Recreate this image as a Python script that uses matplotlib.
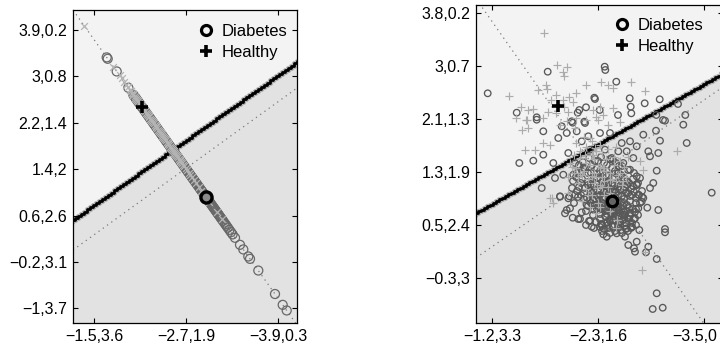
import numpy as np
import matplotlib
matplotlib.use("Agg")
import matplotlib.pyplot as plt
from matplotlib.lines import Line2D
from matplotlib.transforms import ScaledTranslation

plt.rcParams['font.family'] = ['Liberation Sans', 'DejaVu Sans']

# ---------------------------------------------------------------------------
# Left panel: samples projected onto a single discriminant direction.
# Each sample is given by its score along that direction.
# ---------------------------------------------------------------------------
left_xticks = [21, 113, 205]
left_xticklabels = ['\u22121.5,3.6', '\u22122.7,1.9', '\u22123.9,0.3']
left_yticks = [14.7, 61.1, 107.5, 153.9, 200.3, 246.7, 293.1]
left_yticklabels = ['\u22121,3.7', '\u22120.2,3.1', '0.6,2.6', '1.4,2',
                    '2.2,1.4', '3,0.8', '3.9,0.2']

# projection axis (intercept, slope)
left_projection = (313.0, -1.406)
# decision boundaries (intercept, slope)
left_boundary = (103.0, 0.705)
left_alt_boundary = (73.0, 0.723)

left_diabetes_scores = [
    33.7, 34.7, 43.7, 55.3, 60.3, 61.2, 62.5, 63.1, 64.0, 64.8, 65.9, 66.7,
    67.5, 68.6, 69.3, 70.4, 71.2, 72.0, 73.1, 73.9, 74.8, 75.6, 76.7, 77.5,
    78.3, 79.4, 80.2, 81.1, 81.9, 82.8, 83.6, 84.5, 85.5, 86.2, 87.1, 88.0,
    88.8, 89.7, 90.6, 91.4, 92.3, 93.2, 94.0, 94.9, 95.8, 96.6, 97.5, 98.3,
    99.2, 100.1, 100.9, 101.8, 102.6, 103.5, 104.4, 105.2, 106.1, 106.9,
    107.8, 108.7, 109.5, 110.4, 111.2, 112.1, 113.0, 113.8, 114.7, 115.5,
    116.4, 117.3, 118.1, 119.0, 119.8, 120.7, 121.6, 122.4, 123.3, 124.1,
    125.0, 125.9, 126.7, 127.6, 128.4, 129.3, 130.2, 131.0, 131.9, 132.7,
    133.6, 134.5, 135.3, 136.2, 137.0, 137.9, 138.8, 139.6, 140.5, 141.3,
    142.2, 143.1, 143.9, 144.8, 145.6, 146.5, 147.4, 148.2, 149.1, 150.0,
    151.2, 152.3, 153.5, 154.8, 156.4, 158.0, 159.6, 162.0, 167.0, 170.3,
    175.3, 177.0, 185.3, 202.0, 209.7, 213.7,
]
left_healthy_scores = [
    11.3, 40.3, 46.5, 48.7, 51.0, 53.2, 55.1, 56.8, 57.9, 58.7, 59.6, 60.4,
    61.5, 62.3, 63.2, 64.1, 65.0, 65.8, 66.9, 67.7, 68.5, 69.6, 70.4, 71.3,
    72.1, 73.0, 73.9, 74.7, 75.6, 76.4, 77.3, 78.2, 79.0, 79.9, 80.7, 81.6,
    82.5, 83.3, 84.2, 85.0, 85.9, 86.8, 87.6, 88.5, 89.3, 90.2, 91.1, 91.9,
    92.8, 93.6, 94.5, 95.4, 96.2, 97.1, 97.9, 98.8, 99.7, 100.5, 101.4,
    102.2, 103.1, 104.0, 104.8, 105.7, 106.5, 107.4, 108.3, 109.1, 110.0,
    111.2, 112.5, 113.9, 115.6, 117.1, 118.9, 120.8, 123.0, 125.6, 128.4,
    131.7, 136.3, 143.7, 148.7,
]
left_diabetes_center = 133.0
left_healthy_center = 69.0

# ---------------------------------------------------------------------------
# Right panel: samples in the two-dimensional projection.
# ---------------------------------------------------------------------------
right_xticks = [16.3, 122.3, 228.3]
right_xticklabels = ['\u22121.2,3.3', '\u22122.3,1.6', '\u22123.5,0']
right_yticks = [44.7, 97.7, 150.7, 203.7, 256.7, 309.7]
right_yticklabels = ['\u22120.3,3', '0.5,2.4', '1.3,1.9', '2.1,1.3',
                     '3,0.7', '3.8,0.2']

right_boundary = (110.0, 0.565)
right_alt_boundary = (65.2, 0.692)
right_projection = (324.4, -1.425)

right_diabetes_x = [
    11.7, 71.7, 40.7, 60.7, 118.3, 119.0, 110.0, 101.7, 96.7, 108.3, 103.3,
    128.7, 129.3, 140.3, 153.7, 154.7, 155.3, 168.7, 183.7, 202.0, 209.3,
    180.3, 187.0, 142.0, 123.7, 235.7,
    43.3, 57.3, 67.3, 67.3, 60.7, 77.3, 82.3, 92.3, 87.3, 79.0, 65.7, 84.0,
    93.3, 97.3, 107.3, 109.0, 95.7, 100.7, 112.3, 114.0, 105.7, 99.0, 85.7,
    90.7,
    124.0, 134.0, 167.3, 180.0, 184.0, 189.0, 210.7, 207.3, 145.7, 154.0,
    160.7, 142.3, 150.7, 172.3, 174.0, 182.3, 157.3, 154.0, 160.7, 180.7,
    177.3, 174.0, 160.7, 162.3, 167.3, 147.3, 142.3, 135.7, 129.0,
    90.7, 94.0, 89.0, 96.7, 102.3, 105.7, 84.0, 92.3, 114.0, 115.7, 125.7,
    127.3, 130.7, 140.7, 110.7, 120.7,
    182.3, 171.3, 189.0, 189.0, 180.7, 172.3, 170.0, 180.7, 176.7, 186.7,
    162.3, 159.0, 163.3, 149.0, 152.3, 158.0, 159.0, 160.7, 150.7, 155.7,
    165.7,
    112, 118, 124, 130, 136, 142, 148, 153, 120, 126, 132, 138, 144, 150,
    156, 114, 121, 127, 133, 139, 145, 151, 157, 108, 115, 122, 129, 135,
    141, 147, 153, 117, 124, 131, 137, 143, 149, 110, 105, 101, 98, 104,
    110, 118, 126, 133, 139, 146, 128, 134, 140, 146, 152, 158, 122, 116,
    106, 100, 131, 137, 143, 149, 155, 161, 163, 160, 162, 156, 152, 113,
    120, 126, 132, 138, 144, 150, 112, 118, 124, 130, 136, 142, 148, 154,
    160, 166, 164, 108, 102, 96, 124, 130, 136, 142, 148, 154, 140, 128,
    134, 140,
    103, 109, 115, 121, 127, 133, 139, 145, 151, 157, 106, 112, 118, 124,
    130, 136, 142, 148, 154, 160, 105, 111, 117, 123, 129, 135, 141, 147,
    153, 159, 112, 118, 124, 130, 136, 142, 148, 154, 158, 120, 126, 132,
    138, 144, 150, 156, 116, 122, 128, 134, 140, 146, 152, 158, 109, 115,
    121, 127, 133, 139, 145, 151, 157, 119, 125, 131, 137, 143, 113, 107,
    101, 97, 103, 99, 160, 164, 166, 162, 155, 145, 134, 128, 124, 150,
    143, 137, 131, 125, 119, 113,
    127, 132, 138, 143, 148, 135, 141, 146, 151, 129, 134, 139, 144, 149,
    125, 131, 137, 142, 147,
]
right_diabetes_y = [
    229.7, 251.3, 210.3, 205.7, 225.3, 224.0, 215.7, 210.3, 200.3, 201.3,
    213.0,
    256.3, 253.0, 241.3, 224.7, 216.3, 209.7, 219.7, 223.7, 219.0, 208.0,
    208.0, 203.0, 208.0, 213.0, 130.3,
    160.0, 162.3, 168.3, 191.7, 203.3, 160.0, 185.0, 170.0, 148.3, 145.0,
    135.0, 126.7, 126.7, 148.3, 155.0, 200.0, 201.7, 191.7, 186.7, 173.3,
    181.7, 160.0, 196.7, 190.0,
    190.0, 190.0, 188.3, 192.3, 182.3, 202.3, 180.0, 198.3, 180.0, 181.7,
    176.7, 171.7, 171.7, 171.7, 166.7, 170.0, 165.0, 153.3, 146.7, 152.3,
    140.0, 135.0, 138.3, 128.3, 125.0, 160.0, 150.0, 165.0, 173.3,
    113.0, 114.7, 109.7, 105.3, 104.0, 110.7, 126.3, 124.7, 102.0, 96.3,
    98.7, 88.7, 86.3, 89.7, 118.0, 114.7,
    113.0, 115.3, 94.0, 90.7, 64.0, 76.3, 70.7, 29.7, 14.0, 15.3, 114.7,
    104.7, 93.0, 86.3, 78.0, 74.7, 71.3, 81.3, 94.7, 96.3, 121.3,
    150, 146, 152, 148, 155, 150, 145, 140, 140, 136, 141, 137, 133, 130,
    128, 132, 128, 124, 130, 126, 121, 118, 114, 124, 120, 116, 112, 118,
    113, 108, 104, 108, 104, 100, 106, 101, 97, 112, 140, 132, 120, 104,
    98, 95, 92, 95, 92, 90, 160, 164, 160, 157, 153, 150, 162, 158, 152,
    146, 132, 144, 140, 136, 134, 138, 128, 120, 108, 100, 92, 102, 124,
    120, 122, 114, 110, 112, 138, 132, 128, 106, 110, 96, 104, 110, 98,
    132, 145, 130, 126, 135, 144, 140, 132, 128, 124, 122, 118, 116, 102,
    108,
    158, 154, 150, 155, 151, 147, 152, 148, 142, 137, 144, 141, 137, 133,
    137, 140, 136, 133, 127, 125, 128, 125, 123, 119, 126, 123, 121, 117,
    115, 111, 117, 113, 109, 114, 113, 116, 112, 107, 104, 101, 97, 98,
    103, 98, 94, 96, 130, 126, 131, 127, 131, 127, 130, 131, 135, 139,
    145, 141, 135, 133, 143, 138, 144, 162, 166, 158, 163, 157, 165, 161,
    150, 142, 136, 128, 114, 120, 126, 140, 95, 93, 90, 94, 96, 100,
    106, 97, 109, 114, 118, 122,
    119, 116, 118, 113, 120, 111, 109, 114, 105, 107, 103, 106, 101, 108,
    99, 101, 96, 99, 103,
]
right_healthy_x = [
    68.3, 80.7, 90.7, 87.3, 88.3, 33.3, 61.7, 70.0, 70.7, 110.0, 100.0,
    93.3, 80.0, 75.0, 86.7, 96.7, 88.3, 91.7, 45.0, 51.7, 56.7, 71.7, 80.0,
    66.7, 50.0, 40.0, 116.7, 120.0, 100.0, 110.0,
    125.3, 132.0, 137.0, 155.3, 168.7, 123.7, 137.0, 127.0, 143.7,
    49.0, 59.0, 45.7, 52.3, 50.7, 67.3, 74.0, 84.0, 90.7, 99.0, 109.0,
    117.3, 114.0, 104.0, 115.7, 74.0, 92.3,
    200.7, 164.0, 167.3, 132.3, 122.3, 119.0, 127.3, 134.0, 120.7, 147.3,
    75.7, 77.3, 124.0, 141.3, 140.7, 169.0, 165.7,
    104, 110, 116, 122, 128, 100, 106, 112, 118, 124, 94, 98, 130, 120,
    134, 126, 138, 140, 110, 116, 132, 144, 102, 92, 122, 128, 136, 146,
    150, 140, 134, 120, 114,
    98, 104, 110, 118, 126, 132, 138, 144, 108, 114, 120, 128, 136, 142,
    130, 124, 96, 102, 118, 112, 106, 126, 134, 148, 152, 140, 124, 116,
    108, 100,
]
right_healthy_y = [
    289.7, 258.0, 256.3, 251.3, 247.0, 227.0, 233.0, 238.0, 233.7, 238.0,
    229.7, 226.3, 228.0, 223.0, 223.0, 221.3, 216.3, 211.3, 216.3, 213.0,
    213.7, 211.3, 209.7, 204.7, 203.0, 204.7, 213.0, 206.3, 204.7, 203.0,
    241.3, 238.0, 234.7, 241.3, 232.3, 216.3, 214.7, 208.0, 201.3,
    173.3, 173.3, 193.3, 195.0, 203.3, 180.0, 178.3, 198.3, 201.7, 195.0,
    168.3, 168.3, 185.0, 150.0, 146.7, 125.0, 130.0,
    171.7, 161.7, 153.3, 198.3, 203.3, 175.0, 155.0, 143.3, 135.0, 141.7,
    124.7, 119.7, 116.3, 103.0, 103.0, 71.3, 53.0,
    165, 160, 168, 158, 155, 155, 148, 144, 150, 138, 160, 150, 164, 172,
    150, 146, 158, 142, 134, 128, 136, 150, 140, 146, 120, 128, 126, 138,
    146, 95, 112, 110, 116,
    168, 172, 176, 164, 170, 174, 166, 162, 152, 158, 146, 142, 144, 148,
    152, 156, 156, 146, 140, 128, 122, 136, 130, 156, 166, 176, 178, 182,
    186, 180,
]
right_diabetes_center = (136.0, 122.3)
right_healthy_center = (81.7, 217.0)

# ---------------------------------------------------------------------------
LIGHT_BG = '#f3f3f3'
DARK_BG = '#e2e2e2'
CIRCLE_C = '#585858'
CROSS_C = '#ababab'
DOT_C = '#7a7a7a'
TICK_FS = 11.5
LEGEND_FS = 12

fig = plt.figure(figsize=(7.2, 3.49), dpi=100)
ax_l = fig.add_axes([73 / 720, 26 / 349, 224 / 720, 313 / 349])
ax_r = fig.add_axes([476 / 720, 26 / 349, 247 / 720, 318 / 349])


def line_y(params, x):
    a, b = params
    return a + b * np.asarray(x, dtype=float)


def draw_regions(ax, xlim, ylim, boundary, alt_boundary, projection):
    ax.set_xlim(*xlim)
    ax.set_ylim(*ylim)
    ax.set_facecolor(LIGHT_BG)
    xs = np.linspace(xlim[0], xlim[1], 300)
    ax.fill_between(xs, ylim[0], line_y(boundary, xs), color=DARK_BG,
                    lw=0, zorder=0)
    # pixel-grid style decision boundary
    xs_step = np.arange(xlim[0] - 3, xlim[1] + 6, 3.0)
    ys_step = line_y(boundary, xs_step)
    ax.plot(xs_step, ys_step, drawstyle='steps-mid', color='#909090',
            lw=3.8, alpha=0.6, zorder=1.5)
    ax.plot(xs_step, ys_step, drawstyle='steps-mid', color='black',
            lw=2.0, zorder=1.6)
    for params in (alt_boundary, projection):
        ax.plot(xs, line_y(params, xs), ls=(0, (1, 3.2)), color=DOT_C,
                lw=0.9, zorder=1)


def style_axes(ax, xticks, xlabels, yticks, ylabels):
    ax.set_xticks(xticks)
    ax.set_xticklabels(xlabels)
    ax.set_yticks(yticks)
    ax.set_yticklabels(ylabels)
    ax.tick_params(direction='in', top=True, right=True, length=3.5,
                   width=0.8, labelsize=TICK_FS, pad=4, colors='black')
    for sp in ax.spines.values():
        sp.set_linewidth(0.9)
        sp.set_color('black')


def add_legend(ax, anchor):
    handles = [
        Line2D([], [], marker='o', ls='none', mfc='none', mec='black',
               mew=2.3, ms=7.2),
        Line2D([], [], marker='+', ls='none', mec='black', mew=2.6, ms=8.5),
    ]
    ax.legend(handles, ['Diabetes', 'Healthy'], loc='upper left',
              bbox_to_anchor=anchor, frameon=False, fontsize=LEGEND_FS,
              handlelength=1.0, handletextpad=0.46, labelspacing=0.36,
              borderpad=0, borderaxespad=0)


# ---- left panel ----
draw_regions(ax_l, (0, 224), (0, 313), left_boundary, left_alt_boundary,
             left_projection)
ax_l.scatter(left_diabetes_scores, line_y(left_projection, left_diabetes_scores),
             s=42, marker='o', facecolors='none', edgecolors='#686868',
             linewidths=0.9, zorder=3)
ax_l.scatter(left_healthy_scores, line_y(left_projection, left_healthy_scores),
             s=24, marker='x', color='#b4b4b4', linewidths=0.9, zorder=3.5)
ax_l.plot([left_healthy_center], line_y(left_projection, [left_healthy_center]),
          marker='+', ls='none', mec='black', mew=2.6, ms=8.5, zorder=5)
ax_l.plot([left_diabetes_center],
          line_y(left_projection, [left_diabetes_center]),
          marker='o', ls='none', mfc='#8a8a8a', mec='black', mew=2.4, ms=8,
          zorder=5)
style_axes(ax_l, left_xticks, left_xticklabels, left_yticks, left_yticklabels)
add_legend(ax_l, (0.557, 0.955))

# ---- right panel ----
draw_regions(ax_r, (0, 247), (0, 318), right_boundary, right_alt_boundary,
             right_projection)
ax_r.scatter(right_diabetes_x, right_diabetes_y, s=22, marker='o',
             facecolors='none', edgecolors=CIRCLE_C, linewidths=0.95, zorder=3)
ax_r.scatter(right_healthy_x, right_healthy_y, s=26, marker='+',
             color=CROSS_C, linewidths=0.85, zorder=3.5)
ax_r.plot(*right_healthy_center, marker='+', ls='none', mec='black',
          mew=2.6, ms=8.5, zorder=5)
ax_r.plot(*right_diabetes_center, marker='o', ls='none', mfc='#646464',
          mec='black', mew=2.4, ms=7.5, zorder=5)
style_axes(ax_r, right_xticks, right_xticklabels, right_yticks,
           right_yticklabels)
add_legend(ax_r, (0.557, 0.96))

# keep the last bottom label inside the figure edge
last = ax_r.get_xticklabels()[-1]
last.set_transform(last.get_transform()
                   + ScaledTranslation(-7 / 72, 0, fig.dpi_scale_trans))

fig.savefig('out.png', dpi=100)
